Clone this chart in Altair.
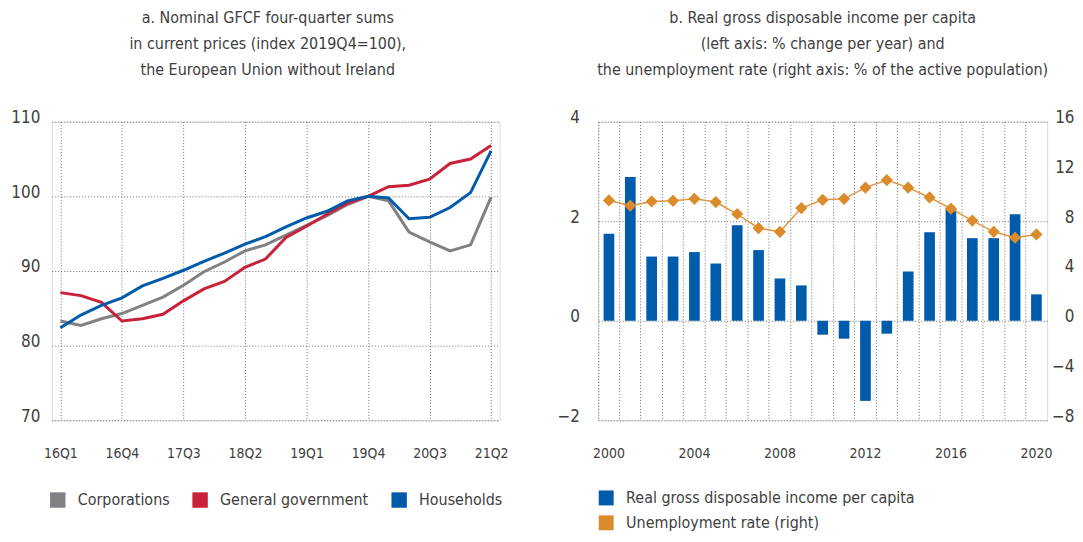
import altair as alt
import pandas as pd

# ---------------- Panel a data ----------------
quarters = ["16Q1", "16Q2", "16Q3", "16Q4", "17Q1", "17Q2", "17Q3", "17Q4",
            "18Q1", "18Q2", "18Q3", "18Q4", "19Q1", "19Q2", "19Q3", "19Q4",
            "20Q1", "20Q2", "20Q3", "20Q4", "21Q1", "21Q2"]
corporations = [83.3, 82.7, 83.6, 84.3, 85.4, 86.5, 88.1, 89.9, 91.2, 92.7, 93.5,
                94.8, 96.1, 97.4, 98.9, 100.0, 99.4, 95.2, 93.9, 92.7, 93.5, 99.9]
general_government = [87.1, 86.7, 85.8, 83.3, 83.6, 84.2, 86.0, 87.6, 88.6, 90.5, 91.6,
                      94.5, 96.0, 97.6, 99.1, 100.0, 101.3, 101.5, 102.3, 104.4, 105.0, 106.8]
households = [82.4, 84.1, 85.4, 86.4, 88.0, 89.0, 90.1, 91.3, 92.4, 93.6, 94.6,
              95.9, 97.1, 98.0, 99.4, 100.0, 99.8, 97.0, 97.2, 98.5, 100.5, 106.1]
left_series = ["Corporations", "General government", "Households"]
left_colors = ["#808085", "#C9213A", "#005BAA"]
left_ticks = [70, 80, 90, 100, 110]
left_title = ["a. Nominal GFCF four-quarter sums",
              "in current prices (index 2019Q4=100),",
              "the European Union without Ireland"]

# ---------------- Panel b data ----------------
years = list(range(2000, 2021))
rgdi = [1.75, 2.89, 1.29, 1.29, 1.38, 1.15, 1.92, 1.42, 0.85, 0.71, -0.28,
        -0.36, -1.61, -0.26, 0.99, 1.78, 2.25, 1.66, 1.66, 2.14, 0.53]
unemployment = [9.67, 9.25, 9.59, 9.64, 9.80, 9.54, 8.58, 7.44, 7.15, 9.06, 9.72,
                9.80, 10.70, 11.31, 10.70, 9.91, 9.01, 8.05, 7.15, 6.68, 6.94]
right_series = ["Real gross disposable income per capita", "Unemployment rate (right)"]
right_colors = ["#005BAA", "#DB8A2C"]
right_left_ticks = [-2, 0, 2, 4]
right_right_ticks = [-8, -4, 0, 4, 8, 12, 16]
right_title = ["b. Real gross disposable income per capita",
               "(left axis: % change per year) and",
               "the unemployment rate (right axis: % of the active population)"]

FONT = "DejaVu Sans Condensed, sans-serif"
TXT = "#404040"
GRID = "#6f6f6f"
TITLE_SIZE = 16
LEG_SIZE = 16
YLAB = 17
XLAB = 14

left_rows = []
for name, vals in zip(left_series, [corporations, general_government, households]):
    for q, v in zip(quarters, vals):
        left_rows.append({"quarter": q, "value": v, "series": name})
left_df = pd.DataFrame(left_rows)

right_df = pd.DataFrame({"year": years, "rgdi": rgdi, "unemp": unemployment,
                         "series": right_series[0]})

grid_kw = dict(grid=True, gridColor=GRID, gridDash=[1, 2], gridWidth=1,
               domain=False, ticks=False, title=None,
               labelFont=FONT, labelColor=TXT)

left = alt.Chart(left_df).mark_line(strokeWidth=3).encode(
    x=alt.X("quarter:O", sort=quarters,
            scale=alt.Scale(type="point", padding=0.42),
            axis=alt.Axis(values=quarters[::3], labelAngle=0, labelFontSize=XLAB,
                          labelPadding=26, **grid_kw)),
    y=alt.Y("value:Q", scale=alt.Scale(domain=[70, 110], nice=False, zero=False),
            axis=alt.Axis(values=left_ticks, labelFontSize=YLAB, labelPadding=12,
                          labelBaseline="alphabetic", labelOffset=1, **grid_kw)),
    color=alt.Color("series:N", sort=left_series,
                    scale=alt.Scale(domain=left_series, range=left_colors),
                    legend=alt.Legend(orient="none", legendX=-2, legendY=372,
                                      direction="horizontal", title=None,
                                      symbolType="square", symbolSize=56,
                                      symbolStrokeWidth=8, labelOffset=12,
                                      columnPadding=10, labelFont=FONT, labelLimit=500,
                                      labelFontSize=LEG_SIZE, labelColor=TXT)),
).properties(
    width=450, height=300,
    title=alt.TitleParams(left_title, font=FONT, fontSize=TITLE_SIZE, fontWeight="normal",
                          color=TXT, lineHeight=26, anchor="middle", frame="group",
                          dx=-8, offset=31),
)

x_right = alt.X("year:O",
                scale=alt.Scale(paddingInner=0.5, paddingOuter=0.25),
                axis=alt.Axis(bandPosition=-0.5, labelAngle=0,
                              labelFontSize=XLAB, labelPadding=26,
                              labelExpr="datum.value % 4 == 0 ? datum.label : ''",
                              **grid_kw))

bars = alt.Chart(right_df).mark_bar().encode(
    x=x_right,
    y=alt.Y("rgdi:Q", scale=alt.Scale(domain=[-2, 4], nice=False),
            axis=alt.Axis(values=right_left_ticks, orient="left", labelFontSize=YLAB,
                          labelPadding=19, labelBaseline="alphabetic", labelOffset=1,
                          **grid_kw)),
    color=alt.Color("series:N",
                    scale=alt.Scale(domain=right_series, range=right_colors),
                    legend=alt.Legend(orient="none", legendX=0, legendY=370,
                                      direction="vertical", title=None,
                                      symbolType="square", symbolSize=225,
                                      symbolStrokeWidth=0, labelOffset=12,
                                      rowPadding=9, labelFont=FONT, labelLimit=500,
                                      labelFontSize=LEG_SIZE, labelColor=TXT)),
)

right_kw = dict(grid=False, domain=False, ticks=False, title=None,
                labelFont=FONT, labelColor=TXT)
y_unemp = alt.Y("unemp:Q", scale=alt.Scale(domain=[-8, 16], nice=False),
                axis=alt.Axis(values=right_right_ticks, orient="right",
                              labelFontSize=YLAB, labelPadding=27, labelAlign="right",
                              labelBaseline="alphabetic", labelOffset=1, **right_kw))
uline = alt.Chart(right_df).mark_line(color="#E0963F", strokeWidth=1.5).encode(
    x=x_right, y=y_unemp)
upts = alt.Chart(right_df).mark_point(shape="diamond", filled=True, size=150,
                                      opacity=1, color=right_colors[1]).encode(
    x=x_right, y=y_unemp)

right = alt.layer(bars, alt.layer(uline, upts)).resolve_scale(y="independent").properties(
    width=451, height=300,
    title=alt.TitleParams(right_title, font=FONT, fontSize=TITLE_SIZE, fontWeight="normal",
                          color=TXT, lineHeight=26, anchor="middle", frame="group",
                          offset=31),
)

chart = alt.hconcat(left, right, spacing=99, bounds="flush").resolve_scale(
    color="independent").resolve_legend(color="independent").properties(
    padding={"left": 2, "top": 0, "right": 0, "bottom": 0}
).configure_view(
    stroke=GRID, strokeDash=[1, 2], strokeWidth=1
).configure(background="white")

chart.save("out.html", embed_options={"renderer": "svg", "actions": False})
